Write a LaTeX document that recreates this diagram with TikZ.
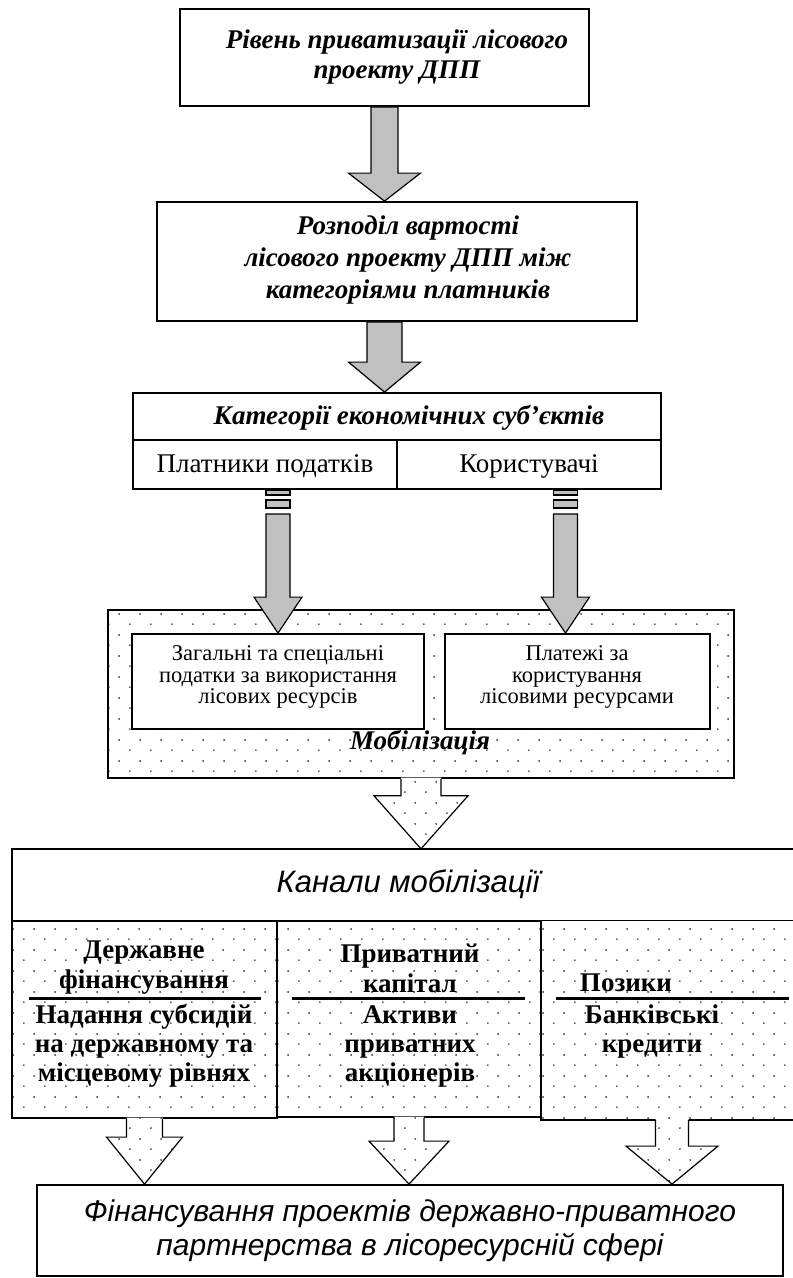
\documentclass[tikz,border=0pt]{standalone}
\usepackage{fontspec}
\setmainfont{Liberation Serif}
\newfontfamily\arialf{Liberation Sans}
\usetikzlibrary{calc,patterns}
\definecolor{arrgray}{RGB}{192,192,192}
\definecolor{dotcol}{RGB}{50,50,50}
\pgfdeclarepatternformonly{sdots}{\pgfqpoint{0pt}{0pt}}{\pgfqpoint{21.2pt}{21pt}}{\pgfqpoint{21.2pt}{21pt}}{%
  \pgfpathcircle{\pgfqpoint{3pt}{3pt}}{1pt}%
  \pgfpathcircle{\pgfqpoint{13.6pt}{13.5pt}}{1pt}%
  \pgfusepath{fill}}
\newcommand{\blockarrow}[6]{%
  \draw[#1] let \p1=(#2), \p2=(#3) in
    (\x2-#4pt,\y1) -- (\x2+#4pt,\y1) -- (\x2+#4pt,\y2+#6pt) -- (\x2+#5pt,\y2+#6pt)
    -- (\x2,\y2) -- (\x2-#5pt,\y2+#6pt) -- (\x2-#4pt,\y2+#6pt) -- cycle;}
\newcommand{\openarrow}[5]{%
  \path[dotfill] let \p1=(#1), \p2=(#2) in
    (\x2-#3pt,\y1+1.2pt) -- (\x2+#3pt,\y1+1.2pt) -- (\x2+#3pt,\y2+#5pt) -- (\x2+#4pt,\y2+#5pt)
    -- (\x2,\y2) -- (\x2-#4pt,\y2+#5pt) -- (\x2-#3pt,\y2+#5pt) -- cycle;
  \draw[arrline] let \p1=(#1), \p2=(#2) in
    (\x2-#3pt,\y1) -- (\x2-#3pt,\y2+#5pt) -- (\x2-#4pt,\y2+#5pt) -- (\x2,\y2)
    -- (\x2+#4pt,\y2+#5pt) -- (\x2+#3pt,\y2+#5pt) -- (\x2+#3pt,\y1);}
\begin{document}
\begin{tikzpicture}[x=1pt,y=-1pt,
  boxline/.style={line width=1.8pt},
  box/.style={draw, boxline, fill=white, inner sep=0pt, rectangle},
  dotfill/.style={pattern=sdots, pattern color=dotcol, preaction={fill=white}},
  dotbox/.style={draw, boxline, dotfill, inner sep=0pt, rectangle},
  grayarrow/.style={draw, line width=1.2pt, fill=arrgray},
  arrline/.style={line width=1.2pt},
  bi/.style={font=\fontsize{27}{30}\selectfont\bfseries\itshape, align=center, inner sep=0pt},
  reg/.style={font=\fontsize{27}{30}\selectfont, align=center, inner sep=0pt},
  small/.style={font=\fontsize{22.5}{21.5}\selectfont, align=center, inner sep=0pt},
  colt/.style={font=\fontsize{27}{29}\selectfont\bfseries, align=center, inner sep=0pt},
  sansit/.style={font=\fontsize{31}{34}\selectfont\arialf\itshape, align=center, inner sep=0pt},
  rulel/.style={line width=3pt}]
\useasboundingbox (0,0) rectangle (793,1278);
\fill[white] (0,0) rectangle (793,1278);

% boxes
\node[box, minimum width=409pt, minimum height=97pt] (top) at (384.5,57.5) {};
\node[box, minimum width=480pt, minimum height=119pt] (dist) at (397,261.5) {};
\node[box, minimum width=528pt, minimum height=96pt] (cat) at (397,441) {};
\draw[boxline] ($(cat.north west)+(0,48)$) -- ($(cat.north east)+(0,48)$);
\draw[boxline] (cat.center) -- (cat.south);

\node[dotbox, minimum width=626pt, minimum height=168pt] (mob) at (421,694) {};
\node[box, minimum width=292pt, minimum height=95pt] (tax) at (278,681.5) {};
\node[box, minimum width=265pt, minimum height=95pt] (pay) at (577.5,681.5) {};

\node[fill=white, inner sep=0pt, minimum width=781pt, minimum height=72pt] (chan) at (402.5,885) {};
\draw[boxline] (chan.north east) -- (chan.north west) -- (chan.south west) -- (chan.south east);
\node[dotbox, minimum width=265pt, minimum height=197pt] (c1) at (144.5,1019.5) {};
\node[dotbox, minimum width=264pt, minimum height=196pt] (c2) at (409,1019) {};
\node[dotfill, inner sep=0pt, minimum width=252pt, minimum height=199pt] (c3) at (667,1020.5) {};
\draw[boxline] (c3.south east) -- (c3.south west) -- (c3.north west);

\node[box, minimum width=746pt, minimum height=91pt] (fin) at (410,1230.5) {};

% gray arrows
\blockarrow{grayarrow}{top.south}{top.south |- dist.north}{13.5}{36}{28}
\blockarrow{grayarrow}{dist.south}{top.south |- cat.north}{17.5}{36}{30}

\draw[grayarrow] ($(tax.north |- cat.south)+(-12,0)$) rectangle ($(tax.north |- cat.south)+(12,5)$);
\draw[grayarrow] ($(tax.north |- cat.south)+(-12,10)$) rectangle ($(tax.north |- cat.south)+(12,18)$);
\blockarrow{grayarrow}{$(tax.north |- cat.south)+(0,24)$}{tax.north}{12}{24}{36}

\draw[grayarrow] ($(pay.north |- cat.south)+(-24,0)$) rectangle ($(pay.north |- cat.south)+(0,5)$);
\draw[grayarrow] ($(pay.north |- cat.south)+(-24,10)$) rectangle ($(pay.north |- cat.south)+(0,18)$);
\blockarrow{grayarrow}{$(pay.north |- cat.south)+(-12,24)$}{$(pay.north)+(-12,0)$}{12}{24}{36}

% dotted arrows
\openarrow{mob.south}{mob.south |- chan.north}{20}{47}{53}
\openarrow{c1.south}{c1.south |- fin.north}{18}{38}{47}
\openarrow{c2.south}{c2.south |- fin.north}{15}{40}{43}
\openarrow{$(c3.south)+(5,0)$}{$(c3.south |- fin.north)+(5,0)$}{16.5}{46}{38}

% texts
\node[bi] (t1) at (397,57.5) {Рівень приватизації лісового\\проекту ДПП};
\node[bi, font=\fontsize{27}{32}\selectfont\bfseries\itshape] (t2) at (408,260) {Розподіл вартості\\лісового проекту ДПП між\\категоріями платників};
\node[bi] (t3) at (409,418) {Категорії економічних суб’єктів};
\node[reg] (t4) at (265,466) {Платники податків};
\node[reg] (t5) at (529,466) {Користувачі};
\node[small] (t6) at (278,677) {Загальні та спеціальні\\податки за використання\\лісових ресурсів};
\node[small] (t7) at (577,677) {Платежі за\\користування\\лісовими ресурсами};
\node[bi] (t8) at (420,743) {Мобілізація};
\node[sansit] (t9) at (408,884) {Канали мобілізації};

\node[colt, font=\fontsize{27}{30}\selectfont\bfseries] (t10) at (144,968) {Державне\\фінансування};
\draw[rulel] ($(c1.north west)+(18,78)$) -- ($(c1.north east)+(-17,78)$);
\node[colt] (t11) at (144,1046) {Надання субсидій\\на державному та\\місцевому рівнях};

\node[colt, font=\fontsize{27}{30}\selectfont\bfseries] (t12) at (410,968) {Приватний\\капітал};
\draw[rulel] ($(c2.north west)+(16,78)$) -- ($(c2.north east)+(-17,78)$);
\node[colt] (t13) at (410,1046) {Активи\\приватних\\акціонерів};

\node[colt] (t14) at (626,983) {Позики};
\draw[rulel] ($(c3.north west)+(15,78)$) -- ($(c3.north east)+(-4,78)$);
\node[colt] (t15) at (652,1031.5) {Банківські\\кредити};

\node[sansit, font=\fontsize{30}{34}\selectfont\arialf\itshape] (t16) at (410,1231) {Фінансування проектів державно-приватного\\партнерства в лісоресурсній сфері};
\end{tikzpicture}
\end{document}
